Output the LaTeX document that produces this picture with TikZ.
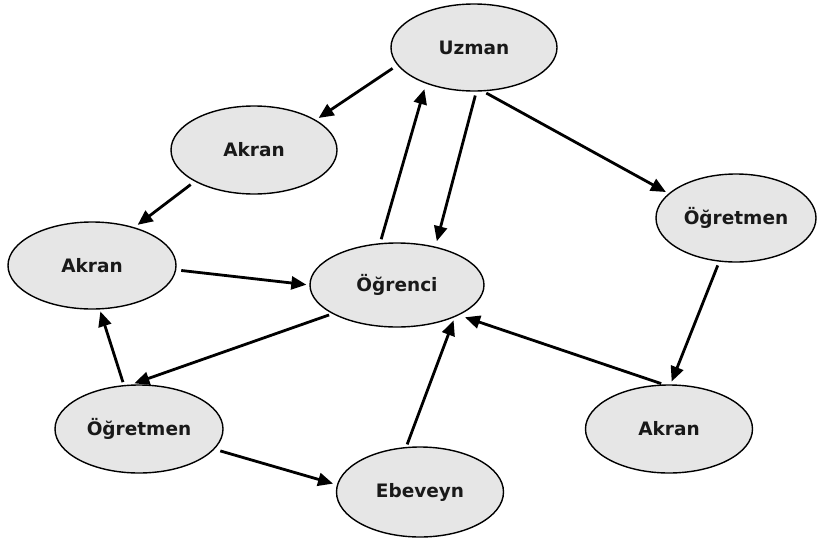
\documentclass[tikz,border=0pt]{standalone}
\usepackage{fontspec}
\setmainfont{DejaVu Sans}
\usetikzlibrary{arrows.meta,shapes.geometric}
\definecolor{nodegray}{HTML}{E6E6E6}
\begin{document}
\begin{tikzpicture}[x=1pt,y=-1pt,
  nd/.style={ellipse, draw=black, line width=1.4pt, fill=nodegray, inner sep=0pt,
    font=\fontsize{18.5}{20}\selectfont\bfseries, text=black!90},
  arr/.style={line width=2.8pt, draw=black, -{Triangle[length=15pt,width=13pt]}}]
\useasboundingbox (0,0) rectangle (817,541);

\node[nd, minimum width=166pt, minimum height=87pt] (uz)  at (474,47.5) {Uzman};
\node[nd, minimum width=166pt, minimum height=88pt] (ak1) at (254,150) {Akran};
\node[nd, minimum width=168pt, minimum height=87pt] (ak2) at (92,265.5) {Akran};
\node[nd, minimum width=174pt, minimum height=84pt] (og)  at (397,285) {Öğrenci};
\node[nd, minimum width=160pt, minimum height=88pt] (ot1) at (736,218) {Öğretmen};
\node[nd, minimum width=168pt, minimum height=88pt] (ot2) at (139,429) {Öğretmen};
\node[nd, minimum width=167pt, minimum height=90pt] (eb)  at (420,492) {Ebeveyn};
\node[nd, minimum width=167pt, minimum height=88pt] (ak3) at (669,429) {Akran};

\draw[arr, shorten <=5.7pt, shorten >=3.4pt] (uz.193.5) -- (ak1.26.9);
\draw[arr, shorten <=5pt, shorten >=4pt] (ak1.208.7) -- (ak2.42);
\draw[arr, shorten <=5pt, shorten >=3pt] (ak2.357.7) -- (og.180);
\draw[arr, shorten <=4pt, shorten >=5.7pt] (og.112.9) -- (uz.217.8);
\draw[arr, shorten <=4pt, shorten >=5.6pt] (uz.273.6) -- (og.45.7);
\draw[arr, shorten <=3.4pt, shorten >=3pt] (uz.282.1) -- (ot1.160.1);
\draw[arr, shorten <=4pt, shorten >=3pt] (ot1.249) -- (ak3.88.8);
\draw[arr, shorten <=2.5pt, shorten >=6.4pt] (ak3.97.4) -- (og.334.8);
\draw[arr, shorten <=2.7pt, shorten >=3.6pt] (eb.107.7) -- (og.331.6);
\draw[arr, shorten <=3.4pt, shorten >=3.4pt] (og.204.1) -- (ot2.100.8);
\draw[arr, shorten <=3pt, shorten >=2pt] (ot2.109.2) -- (ak2.280.7);
\draw[arr, shorten <=6pt, shorten >=4pt] (ot2.345.5) -- (eb.175.4);
\end{tikzpicture}
\end{document}
